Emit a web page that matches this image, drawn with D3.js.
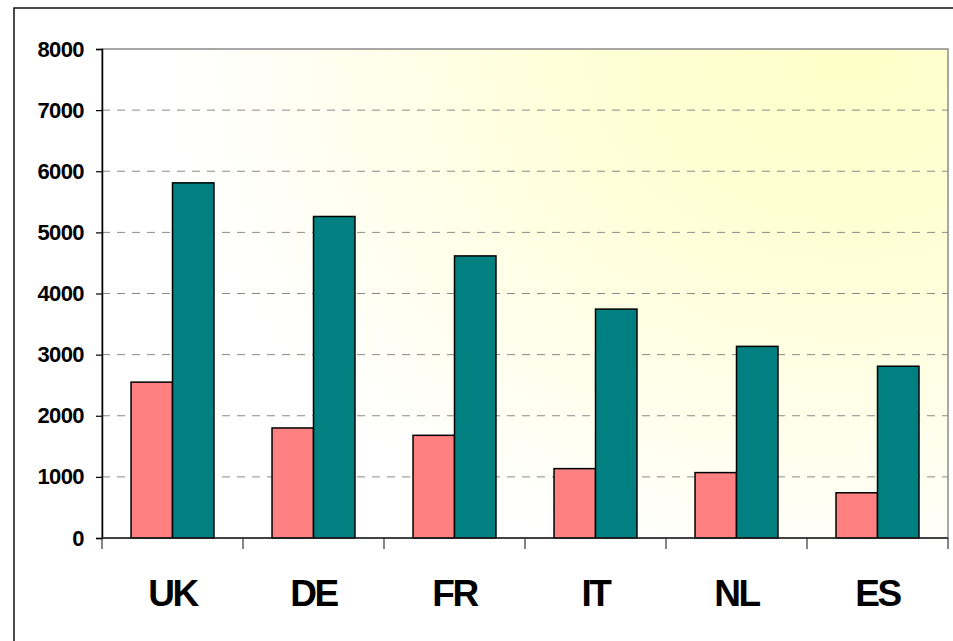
<!DOCTYPE html>
<html>
<head>
<meta charset="utf-8">
<script src="https://cdn.jsdelivr.net/npm/d3@7"></script>
<style>
  html, body { margin: 0; padding: 0; background: #fff; }
  svg { display: block; font-family: "Liberation Sans", Arial, sans-serif; }
</style>
</head>
<body>
<svg id="chart" width="953" height="641"></svg>
<script>
// data
const categories = ['UK', 'DE', 'FR', 'IT', 'NL', 'ES'];
const seriesNames = ['A', 'B'];
const seriesA = [2550, 1800, 1680, 1135, 1070, 740];
const seriesB = [5810, 5260, 4615, 3745, 3135, 2810];
const yTicks = [0, 1000, 2000, 3000, 4000, 5000, 6000, 7000, 8000];

const colors = { A: '#ff8080', B: '#008080' };

const svg = d3.select('#chart');

// plot area box
const plotL = 102, plotT = 49, plotR = 948, plotB = 538;

// background gradient (yellow in the top right corner fading to white)
const defs = svg.append('defs');
const grad = defs.append('radialGradient')
    .attr('id', 'bg')
    .attr('gradientUnits', 'userSpaceOnUse')
    .attr('cx', 850).attr('cy', 50).attr('r', 680)
    .attr('gradientTransform', 'translate(850,50) scale(1,0.8) translate(-850,-50)');
grad.append('stop').attr('offset', '0%').attr('stop-color', '#ffffc8');
grad.append('stop').attr('offset', '40%').attr('stop-color', '#ffffd8');
grad.append('stop').attr('offset', '100%').attr('stop-color', '#ffffff');

// outer frame
svg.append('rect')
    .attr('x', 14).attr('y', 8)
    .attr('width', 960).attr('height', 660)
    .attr('fill', '#fff')
    .attr('stroke', '#111')
    .attr('stroke-width', 1.5);

svg.append('rect')
    .attr('x', plotL).attr('y', plotT)
    .attr('width', plotR - plotL).attr('height', plotB - plotT)
    .attr('fill', 'url(#bg)')
    .attr('stroke', '#8c8c8c')
    .attr('stroke-width', 1.5);

// scales
const x0 = d3.scaleBand().domain(categories).range([plotL, plotR]).padding(0);
const x1 = d3.scaleBand().domain(seriesNames).range([0, x0.bandwidth()])
    .paddingInner(0).paddingOuter(0.7);
const y = d3.scaleLinear().domain([0, 8000]).range([plotB, plotT]);

// grid
svg.append('g')
    .selectAll('line')
    .data(yTicks.filter(d => d > 0 && d < 8000))
    .enter().append('line')
    .attr('x1', plotL).attr('x2', plotR)
    .attr('y1', d => y(d)).attr('y2', d => y(d))
    .attr('stroke', '#8a8a8a')
    .attr('stroke-width', 1)
    .attr('stroke-dasharray', '8,7');

// bars
const rows = categories.map((c, i) => ({ cat: c, A: seriesA[i], B: seriesB[i] }));
svg.append('g')
    .selectAll('g')
    .data(rows)
    .enter().append('g')
    .attr('transform', d => `translate(${x0(d.cat)},0)`)
    .selectAll('rect')
    .data(d => seriesNames.map(k => ({ key: k, value: d[k] })))
    .enter().append('rect')
    .attr('x', d => x1(d.key))
    .attr('width', x1.bandwidth())
    .attr('y', d => y(d.value))
    .attr('height', d => y(0) - y(d.value))
    .attr('fill', d => colors[d.key])
    .attr('stroke', '#000')
    .attr('stroke-width', 1.5);

// y axis
const yAxis = svg.append('g')
    .attr('transform', `translate(${plotL},0)`)
    .call(d3.axisLeft(y).tickValues(yTicks).tickSize(6).tickPadding(12).tickFormat(d3.format('d')));
yAxis.select('.domain').attr('stroke', '#000').attr('stroke-width', 1.5);
yAxis.selectAll('.tick line').attr('stroke', '#000').attr('stroke-width', 1.2);
yAxis.selectAll('.tick text')
    .attr('fill', '#000')
    .attr('font-size', 22)
    .attr('font-weight', 'bold')
    .attr('letter-spacing', '-0.6px')
    .attr('font-family', '"Liberation Sans", Arial, sans-serif');

// x axis: ticks at category boundaries
const xg = svg.append('g');
xg.append('line')
    .attr('x1', plotL).attr('x2', plotR)
    .attr('y1', plotB).attr('y2', plotB)
    .attr('stroke', '#222').attr('stroke-width', 1.5);
const bounds = categories.map(c => x0(c)).concat([plotR]);
xg.selectAll('line.tk')
    .data(bounds)
    .enter().append('line')
    .attr('class', 'tk')
    .attr('x1', d => d).attr('x2', d => d)
    .attr('y1', plotB).attr('y2', plotB + 11)
    .attr('stroke', '#333').attr('stroke-width', 1.2);
xg.selectAll('text')
    .data(categories)
    .enter().append('text')
    .attr('x', d => x0(d) + x0.bandwidth() / 2)
    .attr('y', 606)
    .attr('text-anchor', 'middle')
    .attr('font-size', 37)
    .attr('font-weight', 'bold')
    .attr('letter-spacing', '-2.5px')
    .attr('fill', '#000')
    .text(d => d);
</script>
</body>
</html>
